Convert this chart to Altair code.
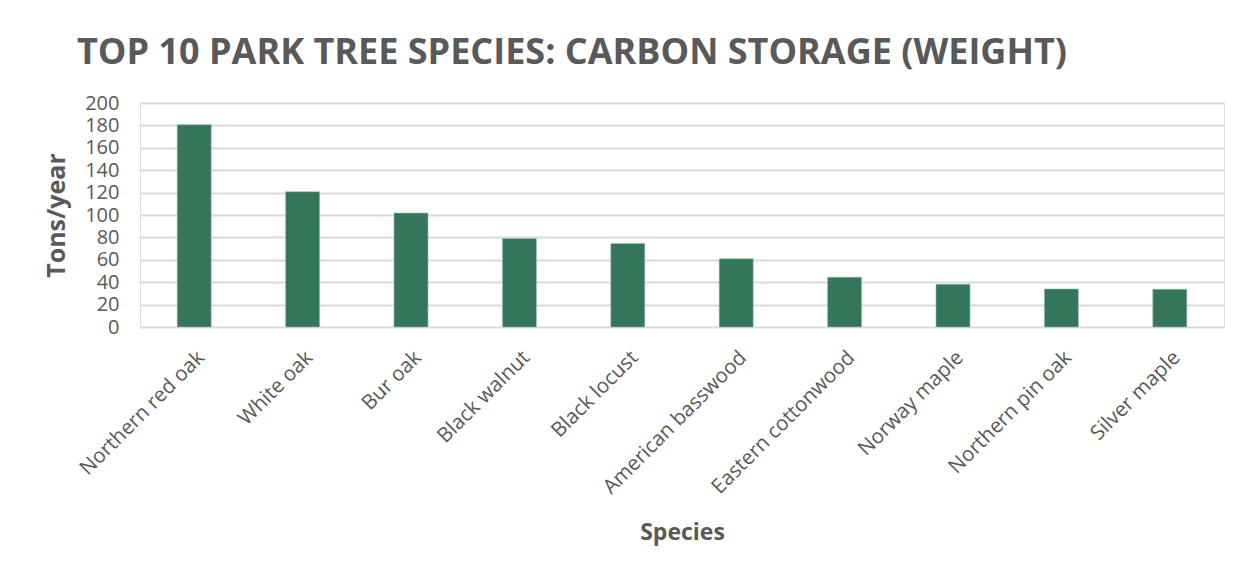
import altair as alt
import pandas as pd

species = ["Northern red oak", "White oak", "Bur oak", "Black walnut", "Black locust",
           "American basswood", "Eastern cottonwood", "Norway maple", "Northern pin oak", "Silver maple"]
tons = [180.6, 120.8, 101.8, 79, 74.6, 61, 44.5, 38.2, 34, 33.7]
y_ticks = [0, 20, 40, 60, 80, 100, 120, 140, 160, 180, 200]

df = pd.DataFrame({"Species": species, "Tons": tons})

FONT = "Open Sans"
GREY = "#595959"

chart = alt.Chart(df).mark_bar(color="#34765C", stroke="#9fbfb0", strokeWidth=0.6).encode(
    x=alt.X("Species:N", sort=species,
            scale=alt.Scale(paddingInner=0.686, paddingOuter=0.343),
            axis=alt.Axis(title="Species", labelAngle=-45, labelFontSize=20.5, labelColor=GREY,
                          labelFont=FONT, titleFont=FONT, titleFontSize=23, titleColor=GREY,
                          titleFontWeight="bold", titlePadding=24, ticks=False, domain=False,
                          labelPadding=20, labelLimit=400)),
    y=alt.Y("Tons:Q", scale=alt.Scale(domain=[0, 200], nice=False),
            axis=alt.Axis(title="Tons/year", values=y_ticks, labelFontSize=20, labelColor=GREY,
                          labelFont=FONT, titleFont=FONT, titleFontSize=25, titleColor=GREY,
                          titleFontWeight="bold", titlePadding=15, ticks=False, domain=False,
                          gridColor="#D9D9D9", gridWidth=2, labelPadding=21)),
).properties(
    width=1084, height=224,
    title=alt.TitleParams("TOP 10 PARK TREE SPECIES: CARBON STORAGE (WEIGHT)", font=FONT,
                          fontSize=36, fontWeight="bold", color=GREY, anchor="middle",
                          dx=-110, offset=21),
).configure_view(stroke=None).configure(padding={"left": 36, "top": 27, "right": 20, "bottom": 5})

chart.save("out.html", embed_options={"renderer": "svg", "actions": False})
